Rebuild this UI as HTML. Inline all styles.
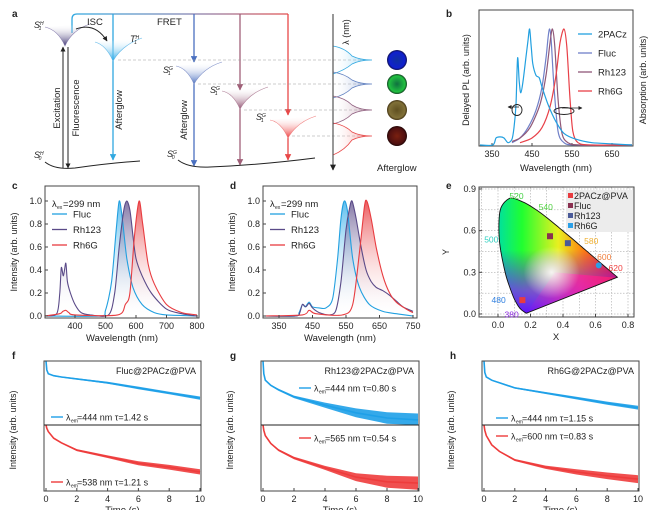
<!DOCTYPE html>
<html><head><meta charset="utf-8"><style>
html,body{margin:0;padding:0;background:#fff;}
svg{display:block;font-family:"Liberation Sans",Arial,sans-serif;}
text{fill:#222;}
</style></head><body>
<svg id="fig" width="664" height="510" viewBox="0 0 664 510" xmlns="http://www.w3.org/2000/svg">
<defs>
 <linearGradient id="wellS1H" x1="0" y1="0" x2="0" y2="1"><stop offset="0" stop-color="#fff" stop-opacity="0"/><stop offset="1" stop-color="#3a3070"/></linearGradient>
 <linearGradient id="wellT1" x1="0" y1="0" x2="0" y2="1"><stop offset="0" stop-color="#fff" stop-opacity="0"/><stop offset="1" stop-color="#28a8e8"/></linearGradient>
 <linearGradient id="wellB" x1="0" y1="0" x2="0" y2="1"><stop offset="0" stop-color="#fff" stop-opacity="0"/><stop offset="1" stop-color="#4a70c0"/></linearGradient>
 <linearGradient id="wellM" x1="0" y1="0" x2="0" y2="1"><stop offset="0" stop-color="#fff" stop-opacity="0"/><stop offset="1" stop-color="#905070"/></linearGradient>
 <linearGradient id="wellR" x1="0" y1="0" x2="0" y2="1"><stop offset="0" stop-color="#fff" stop-opacity="0"/><stop offset="1" stop-color="#ee3a3a"/></linearGradient>
 <linearGradient id="topLine" x1="0" y1="0" x2="1" y2="0"><stop offset="0" stop-color="#30a8e0"/><stop offset="0.55" stop-color="#8080b0"/><stop offset="1" stop-color="#e05050"/></linearGradient>
 <linearGradient id="spC" x1="0" y1="0" x2="1" y2="0"><stop offset="0" stop-color="#fff" stop-opacity="0"/><stop offset="1" stop-color="#28a8e8" stop-opacity="0.6"/></linearGradient>
 <linearGradient id="spB" x1="0" y1="0" x2="1" y2="0"><stop offset="0" stop-color="#fff" stop-opacity="0"/><stop offset="1" stop-color="#4a70c0" stop-opacity="0.6"/></linearGradient>
 <linearGradient id="spM" x1="0" y1="0" x2="1" y2="0"><stop offset="0" stop-color="#fff" stop-opacity="0"/><stop offset="1" stop-color="#905070" stop-opacity="0.6"/></linearGradient>
 <linearGradient id="spR" x1="0" y1="0" x2="1" y2="0"><stop offset="0" stop-color="#fff" stop-opacity="0"/><stop offset="1" stop-color="#ee3a3a" stop-opacity="0.6"/></linearGradient>
 <linearGradient id="fillFluc" x1="0" y1="0" x2="0" y2="1"><stop offset="0" stop-color="#28a8e8" stop-opacity="0.75"/><stop offset="1" stop-color="#fff" stop-opacity="0"/></linearGradient>
 <linearGradient id="fillRh123" x1="0" y1="0" x2="0" y2="1"><stop offset="0" stop-color="#5a4a88" stop-opacity="0.75"/><stop offset="1" stop-color="#fff" stop-opacity="0"/></linearGradient>
 <linearGradient id="fillRh6G" x1="0" y1="0" x2="0" y2="1"><stop offset="0" stop-color="#e83c40" stop-opacity="0.85"/><stop offset="1" stop-color="#fff" stop-opacity="0"/></linearGradient>
 <linearGradient id="cieH" x1="0" y1="0" x2="1" y2="0"><stop offset="0" stop-color="#00e0a0"/><stop offset="0.2" stop-color="#20ff30"/><stop offset="0.5" stop-color="#e8f020"/><stop offset="0.72" stop-color="#ff7a10"/><stop offset="1" stop-color="#ff1020"/></linearGradient>
 <linearGradient id="cieV" x1="0" y1="0" x2="0" y2="1"><stop offset="0.45" stop-color="#6000ff" stop-opacity="0"/><stop offset="0.8" stop-color="#8020ff" stop-opacity="0.75"/><stop offset="1" stop-color="#6010ff" stop-opacity="1"/></linearGradient>
 <linearGradient id="cieM" x1="0" y1="0" x2="1" y2="0"><stop offset="0" stop-color="#ff00c0" stop-opacity="0"/><stop offset="0.6" stop-color="#ff20a0" stop-opacity="0.7"/><stop offset="1" stop-color="#ff2060" stop-opacity="0.8"/></linearGradient>
 <radialGradient id="cieW" cx="0.5" cy="0.5" r="0.5"><stop offset="0" stop-color="#fff" stop-opacity="0.9"/><stop offset="1" stop-color="#fff" stop-opacity="0"/></radialGradient>
 <radialGradient id="dotB"><stop offset="0" stop-color="#1030a0"/><stop offset="0.8" stop-color="#1020d0"/><stop offset="1" stop-color="#101050"/></radialGradient>
 <radialGradient id="dotG"><stop offset="0" stop-color="#107040"/><stop offset="0.8" stop-color="#20c040"/><stop offset="1" stop-color="#104020"/></radialGradient>
 <radialGradient id="dotO"><stop offset="0" stop-color="#605020"/><stop offset="0.8" stop-color="#807038"/><stop offset="1" stop-color="#403010"/></radialGradient>
 <radialGradient id="dotR"><stop offset="0" stop-color="#7a2010"/><stop offset="0.8" stop-color="#501010"/><stop offset="1" stop-color="#200505"/></radialGradient>
 <marker id="ahk" viewBox="0 0 10 10" refX="9" refY="5" markerWidth="5" markerHeight="5" orient="auto-start-reverse"><path d="M0,0 L10,5 L0,10 z" fill="#222"/></marker>
 <marker id="ahB" viewBox="0 0 10 10" refX="9" refY="5" markerWidth="5" markerHeight="5" orient="auto"><path d="M0,0 L10,5 L0,10 z" fill="#30a8e0"/></marker>
 <marker id="ahBl" viewBox="0 0 10 10" refX="9" refY="5" markerWidth="5" markerHeight="5" orient="auto"><path d="M0,0 L10,5 L0,10 z" fill="#4a70c0"/></marker>
 <marker id="ahM" viewBox="0 0 10 10" refX="9" refY="5" markerWidth="5" markerHeight="5" orient="auto"><path d="M0,0 L10,5 L0,10 z" fill="#a06078"/></marker>
 <marker id="ahR" viewBox="0 0 10 10" refX="9" refY="5" markerWidth="5" markerHeight="5" orient="auto"><path d="M0,0 L10,5 L0,10 z" fill="#e84848"/></marker>
</defs>

<g font-weight="bold" font-size="10">
 <text x="12" y="17">a</text>
 <text x="446" y="17">b</text>
 <text x="12" y="189">c</text>
 <text x="230" y="189">d</text>
 <text x="446" y="189">e</text>
 <text x="12" y="359">f</text>
 <text x="230" y="359">g</text>
 <text x="450" y="359">h</text>
</g>

<g id="panelA" font-size="9">
 <path d="M72,33 L72,19 Q72,14 77,14 L288,14" fill="none" stroke="url(#topLine)" stroke-width="1.3"/>
 <line x1="113" y1="14" x2="113" y2="160" stroke="#30a8e0" stroke-width="1.3" marker-end="url(#ahB)"/>
 <line x1="194" y1="14" x2="194" y2="62" stroke="#4a70c0" stroke-width="1.3" marker-end="url(#ahBl)"/>
 <line x1="194" y1="83" x2="194" y2="166" stroke="#4a70c0" stroke-width="1.3" marker-end="url(#ahBl)"/>
 <line x1="240" y1="14" x2="240" y2="90" stroke="#a06078" stroke-width="1.3" marker-end="url(#ahM)"/>
 <line x1="240" y1="108" x2="240" y2="165" stroke="#a06078" stroke-width="1.3" marker-end="url(#ahM)"/>
 <line x1="288" y1="14" x2="288" y2="115" stroke="#e84848" stroke-width="1.3" marker-end="url(#ahR)"/>
 <line x1="288" y1="137" x2="288" y2="160" stroke="#e84848" stroke-width="1.3" marker-end="url(#ahR)"/>
 <path d="M45,27 Q58,30 65,46 Q72,30 90,24" fill="url(#wellS1H)" stroke="#8a80b0" stroke-width="0.6"/>
 <path d="M95,42 Q106,45 113,61 Q122,45 142,38" fill="url(#wellT1)" stroke="#60b8e8" stroke-width="0.6"/>
 <path d="M176,66 Q187,68 194,84 Q203,68 222,62" fill="url(#wellB)" stroke="#8090c8" stroke-width="0.6"/>
 <path d="M222,91 Q233,93 240,109 Q249,93 268,87" fill="url(#wellM)" stroke="#b08098" stroke-width="0.6"/>
 <path d="M270,120 Q281,122 288,138 Q297,122 316,116" fill="url(#wellR)" stroke="#f08080" stroke-width="0.6"/>
 <path d="M76,29 Q95,22 107,41" fill="none" stroke="#222" stroke-width="1" marker-end="url(#ahk)"/>
 <path d="M45,162 Q55,170 75,168 Q110,163 140,161" fill="none" stroke="#222" stroke-width="1"/>
 <path d="M178,160 Q188,168 210,167 Q260,165 315,158" fill="none" stroke="#222" stroke-width="1"/>
 <line x1="63" y1="168" x2="63" y2="47" stroke="#222" stroke-width="1" marker-end="url(#ahk)"/>
 <line x1="68" y1="47" x2="68" y2="168" stroke="#222" stroke-width="1" marker-end="url(#ahk)"/>
 <text transform="translate(60,108) rotate(-90)" text-anchor="middle" font-size="9.5">Excitation</text>
 <text transform="translate(79,108) rotate(-90)" text-anchor="middle" font-size="9.5">Fluorescence</text>
 <text transform="translate(122,110) rotate(-90)" text-anchor="middle" font-size="9.5">Afterglow</text>
 <text transform="translate(187,120) rotate(-90)" text-anchor="middle" font-size="9.5">Afterglow</text>
 <text x="87" y="25" font-size="9.5">ISC</text>
 <text x="157" y="25" font-size="9.5">FRET</text>
 <text x="34" y="28" font-style="italic">S<tspan font-size="5" dy="-3">H</tspan><tspan font-size="5" dx="-5" dy="5">1</tspan></text>
 <text x="130" y="42" font-style="italic">T<tspan font-size="5" dy="-3">H</tspan><tspan font-size="5" dx="-5" dy="5">1</tspan></text>
 <text x="163" y="73" font-style="italic">S<tspan font-size="5" dy="-3">G</tspan><tspan font-size="5" dx="-5" dy="5">1</tspan></text>
 <text x="210" y="93" font-style="italic">S<tspan font-size="5" dy="-3">G</tspan><tspan font-size="5" dx="-5" dy="5">1</tspan></text>
 <text x="256" y="120" font-style="italic">S<tspan font-size="5" dy="-3">G</tspan><tspan font-size="5" dx="-5" dy="5">1</tspan></text>
 <text x="34" y="158" font-style="italic">S<tspan font-size="5" dy="-3">H</tspan><tspan font-size="5" dx="-5" dy="5">0</tspan></text>
 <text x="167" y="157" font-style="italic">S<tspan font-size="5" dy="-3">G</tspan><tspan font-size="5" dx="-5" dy="5">0</tspan></text>
 <g stroke="#999" stroke-width="0.6" stroke-dasharray="3,2">
  <line x1="118" y1="60" x2="370" y2="60"/><line x1="198" y1="84" x2="370" y2="84"/>
  <line x1="244" y1="110" x2="370" y2="110"/><line x1="292" y1="136" x2="370" y2="136"/>
 </g>
 <path d="M333,46 Q345,48 352,56 Q360,60 372,60 Q360,60 352,64 Q345,70 333,74 Z" fill="url(#spC)" stroke="#30a8e0" stroke-width="0.8"/>
 <path d="M333,72 Q345,74 352,80 Q360,84 372,84 Q360,84 352,88 Q345,95 333,98 Z" fill="url(#spB)" stroke="#6080c0" stroke-width="0.8"/>
 <path d="M333,96 Q345,98 352,105 Q360,110 372,110 Q360,110 352,114 Q345,121 333,124 Z" fill="url(#spM)" stroke="#906080" stroke-width="0.8"/>
 <path d="M333,123 Q345,125 352,132 Q360,136 372,136 Q360,136 352,140 Q345,150 333,155 Z" fill="url(#spR)" stroke="#e84848" stroke-width="0.8"/>
 <line x1="333" y1="14" x2="333" y2="170" stroke="#555" stroke-width="1.2" marker-end="url(#ahk)"/>
 <text transform="translate(349,32) rotate(-90)" text-anchor="middle" font-size="9">λ (nm)</text>
 <circle cx="397" cy="60" r="10" fill="url(#dotB)"/>
 <circle cx="397" cy="84" r="10" fill="url(#dotG)"/>
 <circle cx="397" cy="110" r="10" fill="url(#dotO)"/>
 <circle cx="397" cy="136" r="10" fill="url(#dotR)"/>
 <text x="377" y="171" font-size="9.5">Afterglow</text>
</g>

<g id="plots"></g>
</svg>
<script>
// Panel b
const bWl2PACz = [320,352,360,370,380,390,400,405,410,414,418,422,428,435,440,444,448,452,460,468,475,490,510,530,560,600,650,700];
const bVal2PACz = [0,0,0.06,0.07,0.06,0.02,0.05,0.15,0.35,0.75,0.55,0.45,0.56,0.76,0.9,1.0,0.85,0.7,0.6,0.58,0.5,0.35,0.2,0.1,0.05,0.02,0.01,0];
const bWlFluc = [400,420,440,460,475,485,490,494,498,505,515,530,560,700];
const bValFluc = [0.02,0.06,0.15,0.3,0.5,0.75,0.92,1.0,0.9,0.5,0.12,0.02,0,0];
const bWlRh123 = [400,420,445,470,485,495,501,507,515,525,540,570,700];
const bValRh123 = [0.03,0.06,0.15,0.35,0.6,0.88,1.0,0.85,0.4,0.1,0.02,0,0];
const bWlRh6G = [420,450,475,495,510,520,530,537,545,552,565,600,700];
const bValRh6G = [0.02,0.06,0.15,0.33,0.6,0.88,1.0,0.85,0.4,0.12,0.02,0,0];
const bTicks = [350,450,550,650];
// Panel c
const cWlFluc = [300,480,500,520,535,545,555,570,590,620,660,700,800];
const cValFluc = [0,0,0.05,0.3,0.75,1.0,0.85,0.5,0.25,0.1,0.03,0.01,0];
const cWlRh123 = [300,340,350,355,362,370,375,385,400,420,450,510,530,545,560,570,580,590,600,620,650,700,750,800];
const cValRh123 = [0,0.02,0.2,0.42,0.35,0.46,0.3,0.2,0.1,0.03,0.01,0.01,0.2,0.6,0.92,1.0,0.92,0.7,0.5,0.35,0.2,0.06,0.02,0];
const cWlRh6G = [300,350,360,370,380,400,540,565,580,595,610,622,640,660,700,750,800];
const cValRh6G = [0,0.02,0.04,0.05,0.03,0.01,0.01,0.1,0.2,0.7,1.0,0.8,0.45,0.28,0.1,0.03,0.01];
const cTicks = [400,500,600,700,800];
// Panel d
const dWlFluc = [305,400,410,420,428,440,450,470,490,510,525,535,545,555,570,590,620,660,700,750];
const dValFluc = [0,0,0.03,0.1,0.08,0.12,0.08,0.07,0.07,0.15,0.5,0.85,1.0,0.9,0.5,0.25,0.1,0.04,0.02,0];
const dWlRh123 = [305,400,412,420,430,440,450,470,500,520,535,550,560,568,580,595,610,625,640,660,680,700,720,750];
const dValRh123 = [0,0,0.03,0.1,0.08,0.11,0.07,0.03,0.01,0.05,0.3,0.75,0.93,1.0,0.85,0.6,0.4,0.3,0.25,0.22,0.18,0.13,0.08,0.04];
const dWlRh6G = [305,420,440,460,540,570,590,605,612,625,640,660,680,700,730,750];
const dValRh6G = [0,0.01,0.05,0.02,0.01,0.1,0.55,0.95,1.0,0.85,0.6,0.35,0.2,0.12,0.06,0.03];
const dTicks = [350,450,550,650,750];
const yTicks = [0,0.2,0.4,0.6,0.8,1.0];
// Panel e
const cieLocusX = [0.174,0.144,0.124,0.091,0.045,0.008,0.014,0.074,0.155,0.230,0.302,0.373,0.444,0.512,0.575,0.627,0.691,0.735];
const cieLocusY = [0.005,0.030,0.058,0.133,0.295,0.538,0.750,0.834,0.806,0.754,0.692,0.624,0.555,0.487,0.424,0.372,0.308,0.265];
const ciePointNames = ['2PACz@PVA','Fluc','Rh123','Rh6G'];
const ciePointX = [0.15,0.32,0.43,0.62];
const ciePointY = [0.10,0.56,0.51,0.35];
const eXTicks = [0.0,0.2,0.4,0.6,0.8];
const eYTicks = [0.0,0.3,0.6,0.9];
// Panels f,g,h
const decayT = [0,0.05,0.15,0.5,1,2,4,6,8,10];
const fTop = [1.0,0.86,0.8,0.77,0.75,0.72,0.66,0.58,0.5,0.42];
const fTopNoise = [0,0,0,0.01,0.01,0.01,0.015,0.02,0.02,0.025];
const fBot = [1.0,0.95,0.9,0.8,0.73,0.62,0.52,0.42,0.36,0.29];
const fBotNoise = [0,0,0.005,0.01,0.01,0.015,0.02,0.03,0.035,0.04];
const gTop = [1.0,0.8,0.7,0.62,0.55,0.44,0.31,0.19,0.11,0.08];
const gTopNoise = [0,0,0.01,0.01,0.015,0.02,0.04,0.07,0.09,0.1];
const gBot = [1.0,0.92,0.84,0.72,0.62,0.5,0.35,0.21,0.14,0.12];
const gBotNoise = [0,0,0.01,0.01,0.015,0.02,0.03,0.06,0.09,0.1];
const hTop = [1.0,0.82,0.75,0.7,0.66,0.58,0.5,0.42,0.34,0.27];
const hTopNoise = [0,0,0,0.01,0.01,0.012,0.015,0.02,0.025,0.03];
const hBot = [1.0,0.92,0.84,0.7,0.6,0.47,0.36,0.29,0.23,0.18];
const hBotNoise = [0,0,0.005,0.01,0.01,0.015,0.025,0.04,0.05,0.06];
const tTicks = [0,2,4,6,8,10];

const NS = 'http://www.w3.org/2000/svg';
const root = document.getElementById('plots');
function mk(tag, attrs, parent, name) {
  const el = document.createElementNS(NS, tag);
  for (const k in attrs) el.setAttribute(k, attrs[k]);
  
  
  (parent || root).appendChild(el);
  return el;
}
function txt(x, y, s, attrs, parent, name) {
  const el = mk('text', Object.assign({x: x, y: y, 'font-size': 9}, attrs || {}), parent, name);
  el.textContent = s;
  return el;
}
function lin(d0, d1, r0, r1) { return v => r0 + (v - d0) / (d1 - d0) * (r1 - r0); }
function pathFrom(xs, ys, sx, sy) { return xs.map((x, i) => (i ? 'L' : 'M') + sx(x).toFixed(1) + ',' + sy(ys[i]).toFixed(1)).join(' '); }
function smoothFrom(xs, ys, sx, sy) {
  const P = xs.map((x, i) => [sx(x), sy(ys[i])]);
  let d = 'M' + P[0][0].toFixed(1) + ',' + P[0][1].toFixed(1);
  const k = 1 / 7;
  for (let i = 0; i < P.length - 1; i++) {
    const p0 = P[Math.max(0, i - 1)], p1 = P[i], p2 = P[i + 1], p3 = P[Math.min(P.length - 1, i + 2)];
    const c1x = p1[0] + (p2[0] - p0[0]) * k, c1y = p1[1] + (p2[1] - p0[1]) * k;
    const c2x = p2[0] - (p3[0] - p1[0]) * k, c2y = p2[1] - (p3[1] - p1[1]) * k;
    d += ' C' + c1x.toFixed(1) + ',' + c1y.toFixed(1) + ' ' + c2x.toFixed(1) + ',' + c2y.toFixed(1) + ' ' + p2[0].toFixed(1) + ',' + p2[1].toFixed(1);
  }
  return d;
}
function frame(g, x0, y0, x1, y1, name) {
  mk('rect', {x: x0, y: y0, width: x1 - x0, height: y1 - y0, fill: 'none', stroke: '#444', 'stroke-width': 1}, g, name);
}
function xTicks(g, ticks, sx, yb, fmt, name) {
  ticks.forEach(t => {
    mk('line', {x1: sx(t), x2: sx(t), y1: yb, y2: yb - 3, stroke: '#444'}, g, name + '-tick');
    txt(sx(t), yb + 11, fmt ? fmt(t) : String(t), {'text-anchor': 'middle'}, g, name + '-label');
  });
}
function yTicksDraw(g, ticks, sy, xl, fmt, name) {
  ticks.forEach(t => {
    mk('line', {x1: xl, x2: xl + 3, y1: sy(t), y2: sy(t), stroke: '#444'}, g, name + '-tick');
    txt(xl - 3, sy(t) + 3, fmt(t), {'text-anchor': 'end'}, g, name + '-label');
  });
}
function vlabel(g, x, y, s, name) { txt(0, 0, s, {transform: 'translate(' + x + ',' + y + ') rotate(-90)', 'text-anchor': 'middle', 'font-size': 9}, g, name); }

(function () {
  const g = mk('g', {}, root, 'panel-b-spectra');
  const sx = lin(350, 650, 492, 612), sy = lin(0, 1, 145, 29);
  frame(g, 479, 10, 633, 146, 'plot-frame-b');
  xTicks(g, bTicks, sx, 146, null, 'x-axis-b');
  txt(556, 171, 'Wavelength (nm)', {'text-anchor': 'middle', 'font-size': 9.5}, g, 'x-axis-title-b');
  vlabel(g, 469, 80, 'Delayed PL (arb. units)', 'y-axis-title-left-b');
  vlabel(g, 646, 80, 'Absorption (arb. units)', 'y-axis-title-right-b');
  const series = [[bWlFluc, bValFluc, '#7080c8', 'Fluc'], [bWlRh123, bValRh123, '#905878', 'Rh123'], [bWlRh6G, bValRh6G, '#e84048', 'Rh6G'], [bWl2PACz, bVal2PACz, '#22a0e0', '2PACz']];
  series.forEach(s => mk('path', {d: smoothFrom(s[0], s[1], sx, sy), fill: 'none', stroke: s[2], 'stroke-width': 1.2}, g, 'line-' + s[3].toLowerCase()));
  const leg = [['2PACz', '#22a0e0'], ['Fluc', '#7080c8'], ['Rh123', '#905878'], ['Rh6G', '#e84048']];
  leg.forEach((l, i) => {
    const y = 34 + i * 19;
    mk('line', {x1: 578, x2: 592, y1: y, y2: y, stroke: l[1], 'stroke-width': 1.3}, g, 'legend-line-' + l[0].toLowerCase());
    txt(598, y + 3.5, l[0], {'font-size': 9.5}, g, 'legend-entry-' + l[0].toLowerCase());
  });
  mk('ellipse', {cx: 517, cy: 110, rx: 5, ry: 5.5, fill: 'none', stroke: '#222', 'stroke-width': 0.9}, g, 'axis-indicator-left');
  mk('line', {x1: 519, x2: 508, y1: 107, y2: 107, stroke: '#222', 'stroke-width': 0.8, 'marker-end': 'url(#ahk)'}, g, 'axis-indicator-left-arrow');
  mk('ellipse', {cx: 564, cy: 111, rx: 10, ry: 3.5, fill: 'none', stroke: '#222', 'stroke-width': 0.9}, g, 'axis-indicator-right');
  mk('line', {x1: 562, x2: 582, y1: 108, y2: 108, stroke: '#222', 'stroke-width': 0.8, 'marker-end': 'url(#ahk)'}, g, 'axis-indicator-right-arrow');
})();

function specPanel(cfg) {
  const g = mk('g', {}, root, cfg.name);
  const sx = lin(cfg.d0, cfg.d1, cfg.r0, cfg.r1), sy = lin(0, 1, 316, 201);
  const base = sy(0);
  const series = [[cfg.fluc, '#22a0e0', 'url(#fillFluc)', 'fluc'], [cfg.rh123, '#5a4a88', 'url(#fillRh123)', 'rh123'], [cfg.rh6g, '#e83c40', 'url(#fillRh6G)', 'rh6g']];
  series.forEach(s => {
    const xs = s[0][0], ys = s[0][1];
    const d = smoothFrom(xs, ys, sx, sy);
    mk('path', {d: d + ' L' + sx(xs[xs.length - 1]) + ',' + base + ' L' + sx(xs[0]) + ',' + base + ' Z', fill: s[2], stroke: 'none'}, g, 'area-' + s[3]);
  });
  series.forEach(s => mk('path', {d: smoothFrom(s[0][0], s[0][1], sx, sy), fill: 'none', stroke: s[1], 'stroke-width': 1.1}, g, 'line-' + s[3]));
  frame(g, cfg.bx0, 186, cfg.bx1, 318, 'plot-frame');
  xTicks(g, cfg.ticks, sx, 318, null, 'x-axis');
  yTicksDraw(g, yTicks, sy, cfg.bx0, t => t.toFixed(1), 'y-axis');
  txt((cfg.bx0 + cfg.bx1) / 2, 341, 'Wavelength (nm)', {'text-anchor': 'middle', 'font-size': 9.5}, g, 'x-axis-title');
  vlabel(g, cfg.bx0 - 28, 252, 'Intensity (arb. units)', 'y-axis-title');
  const lx = cfg.bx0 + 7;
  txt(lx, 207, 'λ', {'font-size': 9.5}, g, 'excitation-note');
  txt(lx + 5, 209, 'ex', {'font-size': 5}, g, 'excitation-note-sub');
  txt(lx + 11, 207, '=299 nm', {'font-size': 9.5}, g, 'excitation-note-value');
  [['Fluc', '#22a0e0'], ['Rh123', '#5a4a88'], ['Rh6G', '#e83c40']].forEach((l, i) => {
    const y = 214 + i * 15.5;
    mk('line', {x1: lx, x2: lx + 15, y1: y, y2: y, stroke: l[1], 'stroke-width': 1.3}, g, 'legend-line-' + l[0].toLowerCase());
    txt(lx + 21, y + 3.5, l[0], {'font-size': 9.5}, g, 'legend-entry-' + l[0].toLowerCase());
  });
}
specPanel({name: 'panel-c-emission', d0: 400, d1: 800, r0: 75, r1: 197, bx0: 45, bx1: 199, ticks: cTicks,
  fluc: [cWlFluc, cValFluc], rh123: [cWlRh123, cValRh123], rh6g: [cWlRh6G, cValRh6G]});
specPanel({name: 'panel-d-emission', d0: 350, d1: 750, r0: 279, r1: 413, bx0: 263, bx1: 417, ticks: dTicks,
  fluc: [dWlFluc, dValFluc], rh123: [dWlRh123, dValRh123], rh6g: [dWlRh6G, dValRh6G]});

(function () {
  const g = mk('g', {}, root, 'panel-e-cie');
  const sx = lin(0, 0.8, 498, 628), sy = lin(0, 0.9, 314, 189);
  const gridG = mk('g', {stroke: '#999', 'stroke-width': 0.5, 'stroke-dasharray': '1.5,1.5'}, g, 'grid');
  [-0.1, 0, 0.1, 0.2, 0.3, 0.4, 0.5, 0.6, 0.7, 0.8].forEach(v => mk('line', {x1: sx(v), x2: sx(v), y1: 187, y2: 317}, gridG, 'grid-line-x'));
  [0, 0.15, 0.3, 0.45, 0.6, 0.75, 0.9].forEach(v => mk('line', {x1: 479, x2: 634, y1: sy(v), y2: sy(v)}, gridG, 'grid-line-y'));
  mk('rect', {x: 566, y: 190, width: 68, height: 42, fill: '#ececec'}, g, 'legend-background');
  const locus = smoothFrom(cieLocusX, cieLocusY, sx, sy) + ' Z';
  const clip = mk('clipPath', {id: 'cieClip'}, g, 'cie-clip');
  mk('path', {d: locus}, clip, 'cie-clip-path');
  const cg = mk('g', {'clip-path': 'url(#cieClip)'}, g, 'cie-color-fill');
  const bx = sx(0), by = sy(0.84), bw = sx(0.74) - sx(0), bh = sy(0) - sy(0.84);
  mk('rect', {x: bx, y: by, width: bw, height: bh, fill: 'url(#cieH)'}, cg, 'cie-hue');
  mk('rect', {x: bx, y: by, width: bw, height: bh, fill: 'url(#cieV)'}, cg, 'cie-blue');
  mk('path', {d: 'M' + sx(0.17) + ',' + sy(0) + ' L' + sx(0.74) + ',' + sy(0.26) + ' L' + sx(0.35) + ',' + sy(0.3) + ' Z', fill: 'url(#cieM)'}, cg, 'cie-magenta');
  mk('ellipse', {cx: sx(0.33), cy: sy(0.3), rx: 28, ry: 26, fill: 'url(#cieW)'}, cg, 'cie-white');
  mk('path', {d: locus, fill: 'none', stroke: '#111', 'stroke-width': 0.9}, g, 'spectral-locus');
  frame(g, 479, 187, 634, 317, 'plot-frame-e');
  xTicks(g, eXTicks, sx, 317, t => t.toFixed(1), 'x-axis-e');
  yTicksDraw(g, eYTicks, sy, 479, t => t.toFixed(1), 'y-axis-e');
  txt(556, 340, 'X', {'text-anchor': 'middle', 'font-size': 9.5}, g, 'x-axis-title-e');
  vlabel(g, 449, 252, 'Y', 'y-axis-title-e');
  const wl = [['520', 0.07, 0.85, '#40d040'], ['540', 0.25, 0.77, '#50d040'], ['500', -0.085, 0.535, '#30d0c0'], ['580', 0.53, 0.525, '#f0b030'], ['600', 0.61, 0.41, '#f08040'], ['620', 0.68, 0.33, '#f04040'], ['480', -0.04, 0.1, '#3080e0'], ['380', 0.04, -0.005, '#9030e0']];
  wl.forEach(w => txt(sx(w[1]), sy(w[2]) + 3, w[0], {'font-size': 8.5, style: 'fill:' + w[3]}, g, 'wavelength-label-' + w[0]));
  const cols = ['#e83c40', '#8a3050', '#4a5a98', '#2aa0e8'];
  ciePointX.forEach((x, i) => {
    if (i === 3) mk('circle', {cx: sx(x), cy: sy(ciePointY[i]), r: 3, fill: cols[i]}, g, 'cie-point-' + ciePointNames[i].toLowerCase());
    else mk('rect', {x: sx(x) - 3, y: sy(ciePointY[i]) - 3, width: 6, height: 6, fill: cols[i]}, g, 'cie-point-' + ciePointNames[i].toLowerCase());
    mk('rect', {x: 568, y: 193 + i * 10, width: 5, height: 5, fill: cols[i]}, g, 'legend-marker');
    txt(574, 199 + i * 10, ciePointNames[i], {'font-size': 9}, g, 'legend-entry-' + ciePointNames[i].toLowerCase());
  });
})();

function decayPanel(cfg) {
  const g = mk('g', {}, root, cfg.name);
  const sx = lin(0, 10, cfg.bx0 + 2, cfg.bx1 - 1);
  const halves = [[361, 425, cfg.top, cfg.topN, '#1ea0e8', 'top'], [425, 491, cfg.bot, cfg.botN, '#ee3c3c', 'bottom']];
  halves.forEach(h => {
    const sy = lin(0, 1, h[1], h[0]);
    const up = decayT.map((t, i) => Math.min(1, h[2][i] + h[3][i]));
    const lo = decayT.map((t, i) => Math.max(0, h[2][i] - h[3][i]));
    const d = pathFrom(decayT, up, sx, sy) + ' ' + pathFrom(decayT.slice().reverse(), lo.slice().reverse(), sx, sy).replace('M', 'L') + ' Z';
    mk('path', {d: d, fill: h[4], stroke: 'none', opacity: 0.9}, g, 'decay-noise-' + h[5]);
    mk('path', {d: pathFrom(decayT, h[2], sx, sy), fill: 'none', stroke: h[4], 'stroke-width': 1.6}, g, 'decay-curve-' + h[5]);
  });
  frame(g, cfg.bx0, 361, cfg.bx1, 491, 'plot-frame');
  mk('line', {x1: cfg.bx0, x2: cfg.bx1, y1: 425, y2: 425, stroke: '#222', 'stroke-width': 1}, g, 'panel-divider');
  xTicks(g, tTicks, sx, 491, null, 'x-axis');
  txt((cfg.bx0 + cfg.bx1) / 2, 513, 'Time (s)', {'text-anchor': 'middle', 'font-size': 9.5}, g, 'x-axis-title');
  vlabel(g, cfg.bx0 - 28, 430, 'Intensity (arb. units)', 'y-axis-title');
  txt(cfg.bx1 - 5, 374, cfg.title, {'text-anchor': 'end', 'font-size': 9}, g, 'sample-title');
  cfg.legends.forEach((l, i) => {
    const col = i ? '#ee3c3c' : '#1ea0e8';
    mk('line', {x1: l[0], x2: l[0] + 12, y1: l[1], y2: l[1], stroke: col, 'stroke-width': 1.4}, g, 'legend-line');
    txt(l[0] + 15, l[1] + 3.5, 'λ', {'font-size': 9}, g, 'legend-lambda');
    txt(l[0] + 20, l[1] + 5.5, 'em', {'font-size': 5}, g, 'legend-sub');
    txt(l[0] + 26, l[1] + 3.5, l[2], {'font-size': 9, 'xml:space': 'preserve'}, g, 'legend-entry');
  });
}
decayPanel({name: 'panel-f-decay', bx0: 44, bx1: 201, top: fTop, topN: fTopNoise, bot: fBot, botN: fBotNoise, title: 'Fluc@2PACz@PVA',
  legends: [[51, 417, '=444 nm  τ=1.42 s'], [51, 482, '=538 nm  τ=1.21 s']]});
decayPanel({name: 'panel-g-decay', bx0: 261, bx1: 419, top: gTop, topN: gTopNoise, bot: gBot, botN: gBotNoise, title: 'Rh123@2PACz@PVA',
  legends: [[299, 388, '=444 nm  τ=0.80 s'], [299, 438, '=565 nm  τ=0.54 s']]});
decayPanel({name: 'panel-h-decay', bx0: 482, bx1: 639, top: hTop, topN: hTopNoise, bot: hBot, botN: hBotNoise, title: 'Rh6G@2PACz@PVA',
  legends: [[496, 418, '=444 nm τ=1.15 s'], [496, 436, '=600 nm τ=0.83 s']]});
</script>
</body></html>
